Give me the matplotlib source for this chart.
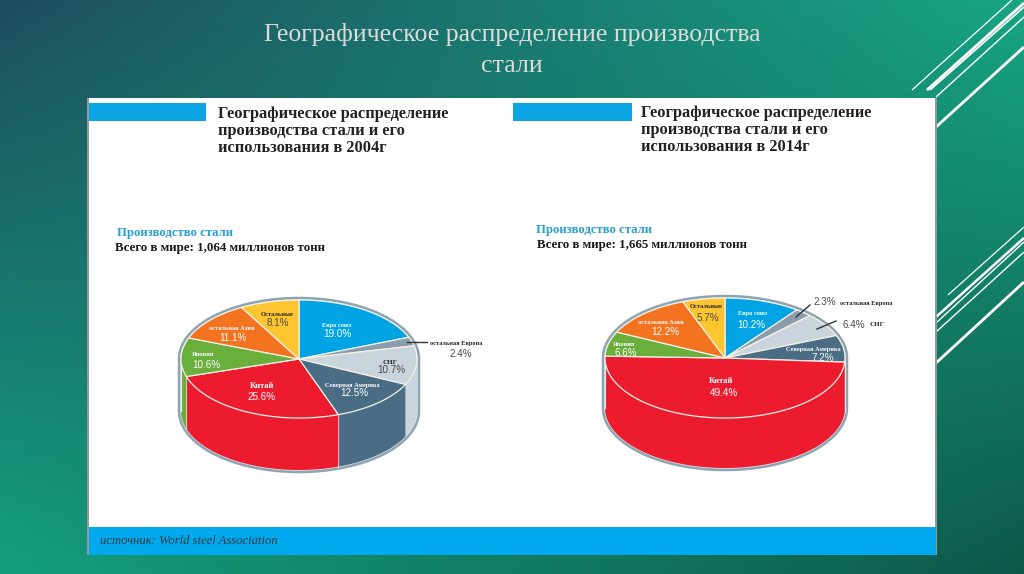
import numpy as np
import matplotlib
matplotlib.use('Agg')
import matplotlib.pyplot as plt
from matplotlib.patches import Polygon, Rectangle

# shares, clockwise from 12 o'clock
regions = ['Евро союз', 'остальная Европа', 'СНГ', 'Северная Америка',
           'Китай', 'Япония', 'остальная Азия', 'Остальные']
share_2004 = [19.0, 2.4, 10.7, 12.5, 25.6, 10.6, 11.1, 8.1]
share_2014 = [10.2, 2.3, 6.4, 7.2, 49.4, 6.6, 12.2, 5.7]

colors = ['#00a4e4', '#8b9cac', '#c9d4dd', '#4a6c84',
          '#ec1c2e', '#6aae3c', '#f37321', '#fdc530']

slide_title = ['Географическое распределение производства', 'стали']
head_2004 = ['Географическое распределение', 'производства стали и его', 'использования в 2004г']
head_2014 = ['Географическое распределение', 'производства стали и его', 'использования в 2014г']
total_2004 = 'Всего в мире: 1,064 миллионов тонн'
total_2014 = 'Всего в мире: 1,665 миллионов тонн'

# label positions in pixels: name x, name y, pct x, pct y
label_pos_2004 = [(337, 325, 337, 334), (456, 343, 461, 354), (390, 362, 391, 370), (352, 385, 354, 393),
                  (262, 386, 262, 397), (203, 354, 206, 365), (232, 329, 233, 338), (277, 314, 278, 323)]
label_pos_2014 = [(753, 314, 751, 325), (866, 303, 825, 302), (877, 325, 854, 325), (813, 350, 823, 358),
                  (721, 381, 724, 393), (624, 345, 626, 353), (661, 323, 665, 332), (706, 307, 708, 318)]
name_colors = ['white', '#222222', '#222222', 'white', 'white', 'white', 'white', '#222222']
name_sizes = [4.5, 4.5, 5.0, 4.5, 6.0, 4.5, 4.5, 4.6]
pct_colors = ['white', '#4a4a4a', '#4a4a4a', 'white', 'white', 'white', 'white', '#4a4a4a']

SERIF = 'Liberation Serif'
SANS = 'Liberation Sans'

fig = plt.figure(figsize=(10.24, 5.74), dpi=100)
ax = fig.add_axes([0, 0, 1, 1])

# slide background, corner colours sit on the pixel centres so the extent overshoots
bg = np.array([[[0x1e, 0x4d, 0x5e], [0x17, 0xa6, 0x84]],
               [[0x14, 0xa0, 0x7e], [0x0e, 0x58, 0x4a]]]) / 255
ax.imshow(bg, extent=(-512, 1536, 861, -287), aspect='auto', interpolation='bilinear', zorder=0)
ax.set_xlim(0, 1024)
ax.set_ylim(574, 0)
ax.axis('off')

# decorative diagonals
for (x0, y0, x1, y1, lw) in [(912, 90, 1012, 0, 0.9), (927, 90, 1024, 3, 2.0), (930, 90, 1024, 7, 1.2),
                             (936, 97, 1024, 17, 1.0), (936, 127, 1024, 47, 2.0),
                             (948, 295, 1024, 227, 0.9), (936, 317, 1024, 238, 1.8), (936, 323, 1024, 242, 1.0),
                             (936, 332, 1024, 252, 1.0), (936, 363, 1024, 282, 2.0)]:
    ax.plot([x0, x1], [y0, y1], color='white', lw=lw, zorder=1, solid_capstyle='butt')

# white panel and blue bars
ax.add_patch(Rectangle((87, 98), 850, 457, fc='#8f9a9c', ec='none', zorder=2))
ax.add_patch(Rectangle((89, 98), 846, 456, fc='white', ec='none', zorder=2))
ax.add_patch(Rectangle((89, 103), 117, 18, fc='#0ba5e4', ec='none', zorder=3))
ax.add_patch(Rectangle((513, 103), 119, 18, fc='#0ba5e4', ec='none', zorder=3))
ax.add_patch(Rectangle((89, 527), 847, 28, fc='#00a9ee', ec='none', zorder=3))
ax.text(100, 541, 'источник: World steel Association', family=SERIF, style='italic', fontsize=9.05,
        color='#2a3a40', va='center', zorder=5)

ax.text(512, 35, slide_title[0], family=SERIF, fontsize=18.5, color='#dcdcdc', ha='center', va='center', zorder=5)
ax.text(512, 66, slide_title[1], family=SERIF, fontsize=18.5, color='#dcdcdc', ha='center', va='center', zorder=5)


def arc(cx, cy, rx, ry, t0, t1):
    t = np.radians(np.linspace(t0, t1, 120))
    return np.column_stack([cx + rx * np.cos(t), cy - ry * np.sin(t)])


def draw_pie(values, cx, cy, rx, ry, depth):
    # outer rim behind everything
    rim = np.vstack([arc(cx, cy, rx + 2, ry + 2, 0, 180), arc(cx, cy + depth, rx + 2, ry + 2, 180, 360)])
    ax.add_patch(Polygon(rim, fc='#dfe5e8', ec='#8fa4b1', lw=1.8, zorder=3))
    ends = 90 - np.cumsum(values) * 3.6
    starts = np.concatenate([[90], ends[:-1]])
    for t0, t1, c in zip(starts, ends, colors):
        # side wall: only the front half of the ellipse shows
        a, b = min(t0, 0), max(t1, -180)
        if a > b:
            wall = np.vstack([arc(cx, cy, rx, ry, a, b), arc(cx, cy + depth, rx, ry, b, a)])
            ax.add_patch(Polygon(wall, fc=c, ec='none', zorder=4))
            ax.plot([cx + rx * np.cos(np.radians(b))] * 2,
                    [cy - ry * np.sin(np.radians(b)), cy - ry * np.sin(np.radians(b)) + depth],
                    color='#e8edf0', lw=0.8, zorder=4)
    for t0, t1, c in zip(starts, ends, colors):
        top = np.vstack([[cx, cy], arc(cx, cy, rx, ry, t0, t1)])
        ax.add_patch(Polygon(top, fc=c, ec='#f4f1e6', lw=0.9, zorder=4.5))


def draw_labels(values, pos):
    for name, v, (nx, ny, px, py), nc, ns, pc in zip(regions, values, pos, name_colors, name_sizes, pct_colors):
        ax.text(nx, ny, name, family=SERIF, weight='bold', fontsize=ns, color=nc, ha='center', va='center', zorder=6)
        ax.text(px, py, f'{v:.1f}%', family=SANS, fontsize=7.1, color=pc, ha='center', va='center', zorder=6)


draw_pie(share_2004, 299, 359, 118, 59, 52)
draw_pie(share_2014, 725, 358, 120, 60, 50)
draw_labels(share_2004, label_pos_2004)
draw_labels(share_2014, label_pos_2014)

# leader lines
for (x0, y0, x1, y1) in [(407, 342, 427, 342), (796, 317, 810, 305), (817, 329, 836, 321)]:
    ax.plot([x0, x1], [y0, y1], color='#333333', lw=1.0, zorder=6)

# panel headings
for (x, y0, lines) in [(218, 114, head_2004), (641, 113, head_2014)]:
    for i, line in enumerate(lines):
        ax.text(x, y0 + i * 17, line, family=SERIF, weight='bold', fontsize=11.75, color='#222222', va='center', zorder=5)

ax.text(117, 233, 'Производство стали', family=SERIF, weight='bold', fontsize=9.2, color='#2a9fd0', va='center', zorder=5)
ax.text(115, 248, total_2004, family=SERIF, weight='bold', fontsize=9.3, color='#1a1a1a', va='center', zorder=5)
ax.text(536, 230, 'Производство стали', family=SERIF, weight='bold', fontsize=9.2, color='#2a9fd0', va='center', zorder=5)
ax.text(537, 245, total_2014, family=SERIF, weight='bold', fontsize=9.3, color='#1a1a1a', va='center', zorder=5)

fig.savefig('out.png', dpi=100)
